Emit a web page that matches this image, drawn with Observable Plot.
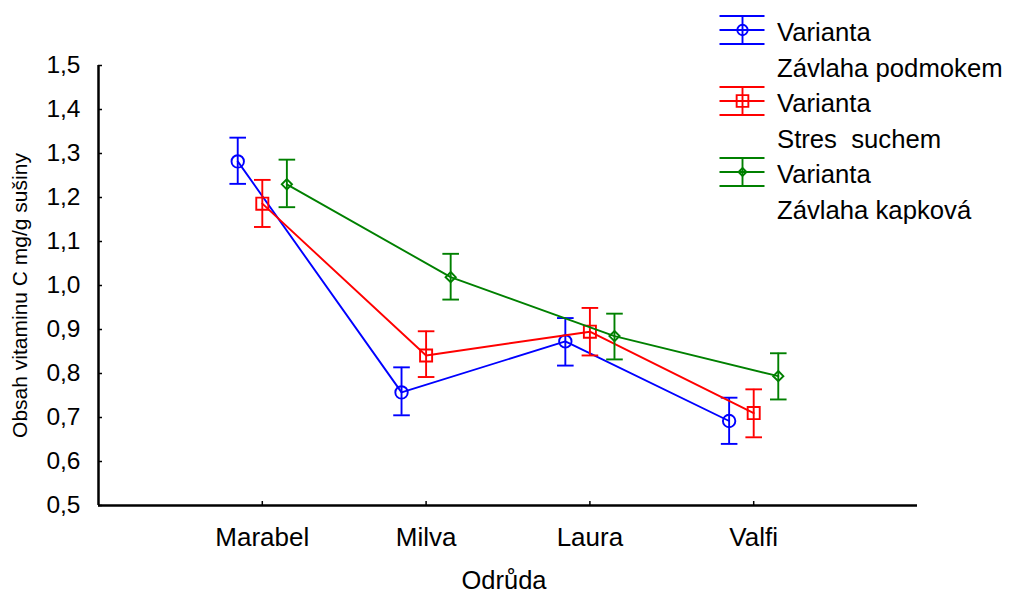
<!DOCTYPE html>
<html><head><meta charset="utf-8">
<script src="https://cdn.jsdelivr.net/npm/d3@7"></script>
<script src="https://cdn.jsdelivr.net/npm/@observablehq/plot@0.6"></script>
<style>
body{margin:0;background:#fff;font-family:"Liberation Sans",Arial,sans-serif;}
#wrap{position:relative;width:1009px;height:596px;}
#legtext{position:absolute;left:777px;top:15px;font-size:25.7px;line-height:35.5px;white-space:pre;color:#000;}
</style></head><body><div id="wrap"></div>
<script>
const categories = ["Marabel", "Milva", "Laura", "Valfi"];
const seriesNames = ["Varianta Závlaha podmokem", "Varianta Stres  suchem", "Varianta Závlaha kapková"];
const legendLine1 = ["Varianta", "Varianta", "Varianta"];
const legendLine2 = ["Závlaha podmokem", "Stres  suchem", "Závlaha kapková"];

const podmokemMean = [1.282, 0.757, 0.873, 0.692];
const podmokemLow  = [1.231, 0.705, 0.818, 0.640];
const podmokemHigh = [1.336, 0.814, 0.926, 0.745];

const suchemMean = [1.186, 0.841, 0.895, 0.710];
const suchemLow  = [1.133, 0.792, 0.841, 0.655];
const suchemHigh = [1.240, 0.896, 0.949, 0.764];

const kapkovaMean = [1.230, 1.019, 0.885, 0.794];
const kapkovaLow  = [1.178, 0.968, 0.832, 0.741];
const kapkovaHigh = [1.286, 1.072, 0.936, 0.846];

const yTicks = [0.5, 0.6, 0.7, 0.8, 0.9, 1.0, 1.1, 1.2, 1.3, 1.4, 1.5];
const yLabel = "Obsah vitaminu C mg/g sušiny";
const xLabel = "Odrůda";

// styles
const colors = ["#0000ff", "#ff0000", "#008000"];
const symbols = ["circle", "square", "diamond2"];
const symbolR = [6.2, 6.8, 4.6];
const dodge = [-0.15, 0, 0.15];

const seriesData = [
  {mean: podmokemMean, lo: podmokemLow, hi: podmokemHigh},
  {mean: suchemMean, lo: suchemLow, hi: suchemHigh},
  {mean: kapkovaMean, lo: kapkovaLow, hi: kapkovaHigh}
];

const rowsBySeries = seriesData.map((s, si) => categories.map((c, ci) => ({
  series: seriesNames[si], cat: c, x: ci + 1 + dodge[si], y: s.mean[ci], lo: s.lo[ci], hi: s.hi[ci]
})));

const capSymbol = {draw(ctx, size) { const r = Math.sqrt(size / Math.PI); ctx.moveTo(-r, 0); ctx.lineTo(r, 0); }};

const marks = [];
rowsBySeries.forEach((rows, si) => {
  const c = colors[si];
  marks.push(Plot.line(rows, {x: "x", y: "y", stroke: c, strokeWidth: 1.9}));
  marks.push(Plot.ruleX(rows, {x: "x", y1: "lo", y2: "hi", stroke: c, strokeWidth: 1.9}));
  marks.push(Plot.dot(rows, {x: "x", y: "lo", symbol: capSymbol, r: 8.3, stroke: c, strokeWidth: 1.9}));
  marks.push(Plot.dot(rows, {x: "x", y: "hi", symbol: capSymbol, r: 8.3, stroke: c, strokeWidth: 1.9}));
  marks.push(Plot.dot(rows, {x: "x", y: "y", symbol: symbols[si], r: symbolR[si], stroke: c, fill: "none", strokeWidth: 1.9}));
});

const plot = Plot.plot({
  width: 1009,
  height: 596,
  marginLeft: 98,
  marginRight: 92,
  marginTop: 65,
  marginBottom: 91,
  style: {fontFamily: "Liberation Sans, Arial, sans-serif", color: "#000", background: "#fff"},
  x: {domain: [0, 5]},
  y: {domain: [0.5, 1.5]},
  marks: [
    Plot.axisY({ticks: yTicks, tickFormat: d => d.toFixed(1).replace(".", ","), tickSize: -4, tickPadding: 22, fontSize: 24.5, label: null, strokeWidth: 1.5}),
    Plot.axisX({ticks: [1, 2, 3, 4], tickFormat: d => categories[d - 1], tickSize: -4, tickPadding: 26, fontSize: 26, label: null, strokeWidth: 1.5}),
    Plot.ruleX([0], {stroke: "#000", strokeWidth: 2.5}),
    Plot.ruleY([0.5], {stroke: "#000", strokeWidth: 2.5}),
    Plot.text([yLabel], {frameAnchor: "left", textAnchor: "middle", lineAnchor: "middle", rotate: -90, dx: -78, dy: 10, fontSize: 21, fill: "#000"}),
    Plot.text([xLabel], {frameAnchor: "bottom", textAnchor: "middle", lineAnchor: "middle", dy: 75, dx: -4, fontSize: 25.5, fill: "#000"}),
    ...marks
  ]
});
const wrap = document.getElementById("wrap");
wrap.appendChild(plot);

// legend
const leg = d3.select(wrap).append("svg")
  .attr("width", 60).attr("height", 210)
  .style("position", "absolute").style("left", "716px").style("top", "0px");
seriesNames.forEach((name, i) => {
  const cy = 30 + i * 71;
  const g = leg.append("g").attr("transform", `translate(26.5,${cy})`)
    .attr("stroke", colors[i]).attr("stroke-width", 1.9).attr("fill", "none");
  [-14, 0, 14].forEach(dy => g.append("line").attr("x1", -23).attr("x2", 22).attr("y1", dy).attr("y2", dy));
  g.append("line").attr("x1", 0).attr("x2", 0).attr("y1", -14).attr("y2", 14);
  const typeMap = {circle: d3.symbolCircle, square: d3.symbolSquare, diamond2: d3.symbolDiamond2};
  const r = [5.2, 6.6, 3.6][i];
  g.append("path").attr("d", d3.symbol().type(typeMap[symbols[i]]).size(Math.PI * r * r)());
});
const lt = document.createElement("div");
lt.id = "legtext";
lt.textContent = legendLine1.map((l, i) => l + "\n" + legendLine2[i]).join("\n");
wrap.appendChild(lt);
</script>
</body></html>
